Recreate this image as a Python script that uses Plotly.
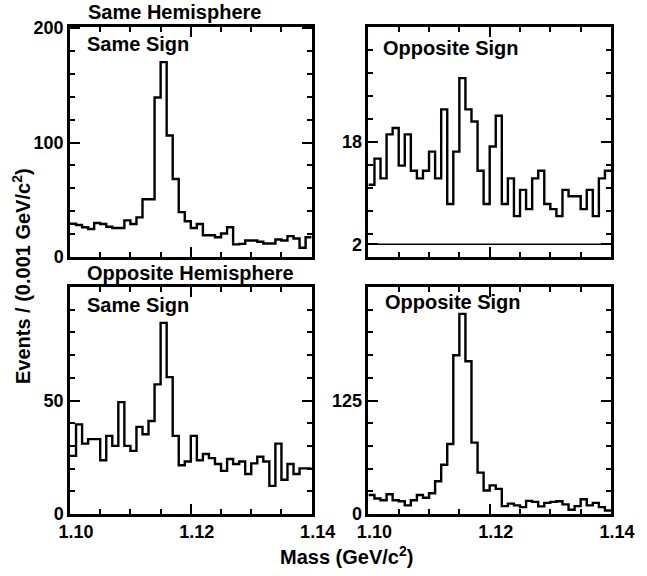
import plotly.graph_objects as go

# ---- data (bin lower edges 1.100 ... 1.139, width 0.001 GeV/c^2) ----
mass_edges = [round(1.100 + 0.001 * i, 3) for i in range(41)]

same_hemi_same_sign = [29, 28, 26, 24.5, 29.7, 28.9, 26.5, 25.4, 25.4, 32,
                       28.9, 34.6, 50.5, 50.5, 139.4, 170.3, 106.2, 68.1, 39.2, 31.2,
                       25.4, 28.9, 19, 19, 17.3, 20.5, 26, 11, 11.5, 14.4,
                       14.4, 13.3, 11.8, 11.8, 15.3, 14.4, 18.2, 16.2, 8.1, 17.3]

same_hemi_opp_sign = [11.3, 15.4, 12.3, 19.2, 20.2, 14.3, 19.2, 13.5, 12.3, 13.5,
                      16.5, 12.3, 23.1, 8.3, 16.5, 28.0, 23.1, 21.2, 13.5, 8.3,
                      17.3, 22.1, 8.3, 12.3, 6.4, 10.5, 7.5, 12.3, 13.5, 8.3,
                      7.5, 6.4, 10.5, 9.5, 9.5, 7.5, 10.5, 6.4, 12.3, 13.5]

opp_hemi_same_sign = [25.6, 39.5, 31, 33, 33, 23.7, 34.4, 30, 49.3, 30,
                      27.8, 38.4, 35.1, 41, 57.1, 84.2, 60.3, 34.4, 21.5, 23.1,
                      34.4, 23.7, 26.4, 24.6, 22, 19, 24.2, 22, 23.1, 17.6,
                      22.3, 25.2, 23.1, 12.4, 31, 15.1, 22, 17.6, 20.1, 20.1]

opp_hemi_opp_sign = [20.9, 17.1, 15.2, 21.7, 15.2, 14.1, 9.5, 15.2, 20.9, 17.9,
                     22.8, 36.1, 54.3, 77.1, 174.8, 220.4, 168.3, 78.6, 45.6, 25.8,
                     31.5, 27.7, 8.7, 11.4, 9.5, 7.6, 14.4, 13.3, 8.4, 12.2,
                     13.3, 14.1, 10.6, 4.6, 8.7, 16.3, 9.5, 12.2, 7.6, 3.8]

reference_level = 2  # horizontal line in the top-right panel

x_tick_vals = [1.10, 1.12, 1.14]
x_tick_text = ["1.10", "1.12", "1.14"]

W, H = 647, 576
ML, MR, MT, MB = 70, 24, 27, 62
PW, PH = W - ML - MR, H - MT - MB


def px_x(p):
    return (p - ML) / PW


def px_y(p):
    return (H - MB - p) / PH


XL = [0, px_x(317)]
XR = [px_x(375), 1.0]
YT = [px_y(257), 1.0]
YB = [0, px_y(287)]

FONT = "Liberation Sans, Arial, Helvetica, sans-serif"
tickfont = dict(family=FONT, size=18, color="black", weight="bold")

fig = go.Figure()

panels = [
    (same_hemi_same_sign, "x", "y"),
    (same_hemi_opp_sign, "x2", "y2"),
    (opp_hemi_same_sign, "x3", "y3"),
    (opp_hemi_opp_sign, "x4", "y4"),
]
for vals, xa, ya in panels:
    fig.add_trace(go.Scatter(
        x=mass_edges, y=list(vals) + [vals[-1]], mode="lines",
        line=dict(color="black", width=2.4, shape="hv"),
        xaxis=xa, yaxis=ya, showlegend=False, hoverinfo="skip"))

fig.add_trace(go.Scatter(
    x=[mass_edges[0], mass_edges[-1]], y=[reference_level, reference_level],
    mode="lines", line=dict(color="black", width=1.5),
    xaxis="x2", yaxis="y2", showlegend=False, hoverinfo="skip"))


def xaxis(domain, anchor, labels):
    return dict(domain=domain, anchor=anchor, range=[1.10, 1.14],
                tickmode="array", tickvals=x_tick_vals, ticktext=x_tick_text,
                showticklabels=labels, tickfont=tickfont, ticklabelshift=6,
                ticks="inside", ticklen=10, tickwidth=1.5, tickcolor="black",
                minor=dict(tickmode="array",
                           tickvals=[1.105, 1.11, 1.115, 1.125, 1.13, 1.135],
                           ticks="inside", ticklen=5, tickwidth=1.5, tickcolor="black"),
                showline=True, linewidth=2.5, linecolor="black", mirror="allticks",
                showgrid=False, zeroline=False)


def yaxis(domain, anchor, rng, tickvals, minor_vals):
    return dict(domain=domain, anchor=anchor, range=rng,
                tickmode="array", tickvals=tickvals,
                ticktext=[str(v) for v in tickvals], tickfont=tickfont,
                ticks="inside", ticklen=10, tickwidth=1.5, tickcolor="black",
                minor=dict(tickmode="array", tickvals=minor_vals,
                           ticks="inside", ticklen=5, tickwidth=1.5, tickcolor="black"),
                showline=True, linewidth=2.5, linecolor="black", mirror="allticks",
                showgrid=False, zeroline=False)


fig.update_layout(
    width=W, height=H, autosize=False,
    margin=dict(l=ML, r=MR, t=MT, b=MB, pad=0),
    paper_bgcolor="white", plot_bgcolor="white",
    xaxis=xaxis(XL, "y", False),
    xaxis2=xaxis(XR, "y2", False),
    xaxis3=xaxis(XL, "y3", True),
    xaxis4=xaxis(XR, "y4", True),
    yaxis=yaxis(YT, "x", [0, 201], [0, 100, 200], [20 * i for i in range(1, 10)]),
    yaxis2=yaxis(YT, "x2", [0, 36], [2, 18], [round(3.6 * i, 1) for i in range(1, 10)]),
    yaxis3=yaxis(YB, "x3", [0, 100], [0, 50], [10 * i for i in range(1, 10)]),
    yaxis4=yaxis(YB, "x4", [0, 250], [0, 125], [25 * i for i in range(1, 10)]),
)

afont = dict(family=FONT, size=20, color="black", weight="bold")
annots = [
    ("Same Hemisphere", 86, 12),
    ("Same Sign", 85, 44),
    ("Opposite Sign", 388, 48),
    ("Opposite Hemisphere", 85, 273),
    ("Same Sign", 85, 305),
    ("Opposite Sign", 390, 302),
]
for text, x, y in annots:
    fig.add_annotation(text=text, x=px_x(x), y=px_y(y), xref="paper", yref="paper",
                       xanchor="left", yanchor="middle", showarrow=False, font=afont)

fig.add_annotation(text="Mass (GeV/c<sup>2</sup>)", x=px_x(353), y=px_y(555),
                   xref="paper", yref="paper", xanchor="center", yanchor="middle",
                   showarrow=False, font=afont)
fig.add_annotation(text="Events / (0.001 GeV/c<sup>2</sup>)", x=px_x(20), y=px_y(276),
                   xref="paper", yref="paper", xanchor="center", yanchor="middle",
                   textangle=-90, showarrow=False, font=afont)

fig.write_html("out.html")
